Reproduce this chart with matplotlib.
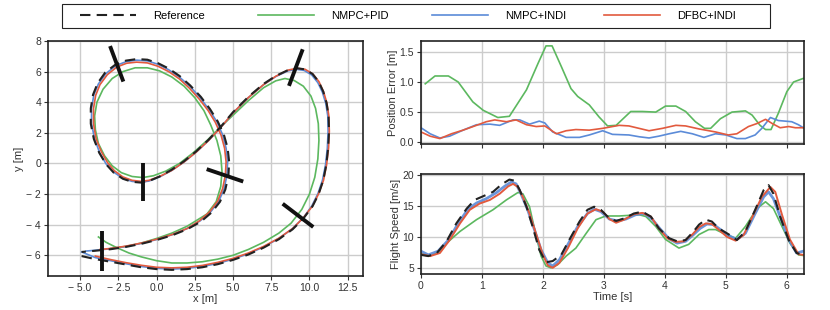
import numpy as np
import matplotlib
matplotlib.use('Agg')
from matplotlib import pyplot as plt
from matplotlib.ticker import FuncFormatter, MultipleLocator
from matplotlib.lines import Line2D
from matplotlib.patches import Rectangle

# ---------------- trajectory (x-y plane) ----------------
ref_x = [-4.9, -4.0, -3.0, -2.0, -1.0, 0.0, 1.0, 2.0, 3.0, 4.0, 5.0, 6.0, 7.0, 8.0, 8.9, 9.6,
         10.2, 10.6, 10.9, 11.1, 11.22, 11.28, 11.25, 11.12, 10.9, 10.6, 10.2, 9.7, 9.2, 8.6,
         7.8, 7.0, 6.0, 5.0, 4.2, 3.4, 2.6, 1.8, 1.0, 0.2, -0.5, -1.0, -1.6, -2.2, -2.8, -3.3,
         -3.75, -4.1, -4.3, -4.3, -4.15, -3.85, -3.35, -2.7, -2.0, -1.3, -0.6, 0.1, 0.8, 1.5,
         2.2, 2.9, 3.5, 4.0, 4.4, 4.65, 4.75, 4.7, 4.5, 4.15, 3.6, 2.9, 2.0, 1.0, 0.0, -1.0,
         -2.0, -3.0, -4.0, -4.9]
ref_y = [-6.05, -6.25, -6.42, -6.6, -6.78, -6.9, -6.95, -6.9, -6.78, -6.58, -6.3, -5.95, -5.5,
         -4.95, -4.3, -3.6, -2.8, -2.0, -1.1, -0.1, 1.0, 2.1, 3.1, 3.95, 4.7, 5.35, 5.85, 6.15,
         6.22, 6.1, 5.72, 5.2, 4.35, 3.35, 2.4, 1.55, 0.8, 0.15, -0.4, -0.85, -1.15, -1.25, -1.2,
         -1.0, -0.6, -0.05, 0.7, 1.6, 2.6, 3.6, 4.5, 5.25, 5.95, 6.45, 6.72, 6.82, 6.78, 6.55,
         6.2, 5.72, 5.1, 4.35, 3.55, 2.75, 1.9, 1.0, 0.1, -0.8, -1.7, -2.5, -3.2, -3.8, -4.3,
         -4.7, -5.0, -5.25, -5.45, -5.6, -5.7, -5.78]

pid_x = [-3.8, -3.3, -2.6, -1.8, -1.0, 0.0, 1.0, 2.0, 3.0, 4.0, 5.0, 6.0, 7.0, 8.0, 8.8, 9.5,
         10.0, 10.35, 10.55, 10.62, 10.58, 10.4, 10.1, 9.6, 9.0, 8.4, 7.8, 7.0, 6.0, 5.0, 4.2,
         3.3, 2.4, 1.5, 0.6, -0.2, -0.9, -1.6, -2.3, -2.9, -3.4, -3.8, -4.0, -4.05, -3.9, -3.5,
         -2.9, -2.2, -1.4, -0.6, 0.2, 1.0, 1.8, 2.5, 3.1, 3.55, 3.95, 4.2, 4.28, 4.2, 3.9, 3.3,
         2.0, 1.0, 0.0, -1.0, -2.0, -3.0]
pid_y = [-4.8, -5.15, -5.5, -5.85, -6.1, -6.35, -6.5, -6.5, -6.42, -6.25, -6.0, -5.62, -5.15,
         -4.55, -3.9, -3.0, -2.0, -0.9, 0.3, 1.5, 2.6, 3.6, 4.4, 5.05, 5.42, 5.55, 5.4, 4.95,
         4.1, 3.15, 2.4, 1.5, 0.7, 0.0, -0.5, -0.8, -0.92, -0.85, -0.6, -0.15, 0.5, 1.3, 2.2,
         3.1, 4.0, 4.85, 5.55, 6.0, 6.25, 6.25, 6.05, 5.65, 5.05, 4.3, 3.45, 2.5, 1.5, 0.5, -0.5,
         -1.5, -2.5, -3.3, -4.1, -4.55, -4.9, -5.2, -5.42, -5.55]

indi_x = [-4.9, -4.0, -3.0, -2.0, -1.0, 0.0, 1.0, 2.0, 3.0, 4.0, 5.0, 6.0, 7.0, 8.0, 8.9, 9.6,
          10.15, 10.55, 10.85, 11.05, 11.17, 11.22, 11.2, 11.07, 10.85, 10.55, 10.15, 9.65, 9.15,
          8.6, 7.8, 7.0, 6.0, 5.0, 4.2, 3.4, 2.6, 1.8, 1.0, 0.2, -0.5, -1.0, -1.6, -2.2, -2.8,
          -3.3, -3.72, -4.05, -4.25, -4.25, -4.1, -3.8, -3.3, -2.68, -2.0, -1.3, -0.6, 0.1, 0.8,
          1.5, 2.2, 2.85, 3.45, 3.95, 4.32, 4.55, 4.65, 4.6, 4.42, 4.08, 3.55, 2.85, 2.0, 1.0,
          0.0, -1.0, -2.0, -3.0, -4.0, -4.6]
indi_y = [-5.78, -6.15, -6.35, -6.55, -6.73, -6.85, -6.9, -6.85, -6.73, -6.53, -6.25, -5.9,
          -5.45, -4.9, -4.25, -3.55, -2.78, -1.98, -1.1, -0.1, 1.0, 2.1, 3.1, 3.92, 4.65, 5.28,
          5.78, 6.08, 6.15, 6.05, 5.68, 5.15, 4.3, 3.3, 2.35, 1.5, 0.75, 0.1, -0.45, -0.88, -1.15,
          -1.22, -1.17, -0.97, -0.57, -0.03, 0.7, 1.6, 2.6, 3.6, 4.48, 5.2, 5.88, 6.38, 6.65,
          6.75, 6.7, 6.48, 6.12, 5.64, 5.03, 4.3, 3.5, 2.72, 1.88, 1.0, 0.1, -0.78, -1.65, -2.45,
          -3.15, -3.75, -4.25, -4.66, -4.97, -5.22, -5.42, -5.57, -5.67, -5.72]

dfbc_x = [-4.0, -3.0, -2.0, -1.0, 0.0, 1.0, 2.0, 3.0, 4.0, 5.0, 6.0, 7.0, 8.0, 8.9, 9.6, 10.2,
          10.6, 10.92, 11.12, 11.25, 11.3, 11.27, 11.14, 10.92, 10.62, 10.22, 9.72, 9.2, 8.6,
          7.8, 7.0, 6.0, 5.0, 4.2, 3.4, 2.6, 1.8, 1.0, 0.2, -0.5, -1.0, -1.6, -2.2, -2.75, -3.2,
          -3.6, -3.95, -4.12, -4.12, -3.98, -3.7, -3.22, -2.6, -1.95, -1.3, -0.6, 0.1, 0.8, 1.5,
          2.15, 2.8, 3.38, 3.85, 4.22, 4.45, 4.55, 4.5, 4.32, 4.0, 3.48, 2.8, 2.0, 1.0, 0.0, -1.0,
          -2.0, -3.0, -3.7]
dfbc_y = [-6.05, -6.28, -6.48, -6.65, -6.78, -6.82, -6.78, -6.66, -6.46, -6.2, -5.85, -5.42,
          -4.88, -4.25, -3.55, -2.78, -1.98, -1.1, -0.1, 1.0, 2.1, 3.1, 3.95, 4.7, 5.35, 5.85,
          6.15, 6.22, 6.1, 5.7, 5.15, 4.3, 3.3, 2.35, 1.5, 0.75, 0.1, -0.45, -0.85, -1.1, -1.17,
          -1.1, -0.88, -0.48, 0.05, 0.75, 1.6, 2.6, 3.6, 4.45, 5.15, 5.8, 6.3, 6.55, 6.62, 6.57,
          6.35, 6.0, 5.52, 4.92, 4.2, 3.45, 2.68, 1.85, 1.0, 0.1, -0.78, -1.65, -2.45, -3.15,
          -3.75, -4.25, -4.65, -4.95, -5.2, -5.4, -5.55, -5.62]

# gates: (x0, y0, x1, y1)
gates = [(-3.04, 7.67, -2.17, 5.35), (9.56, 7.46, 8.66, 5.07), (-0.86, 0.02, -0.86, -2.48),
         (3.28, -0.37, 5.67, -1.18), (8.25, -2.63, 10.25, -4.15), (-3.54, -4.44, -3.54, -7.0)]

# ---------------- position error ----------------
err_pid_t = [0.07, 0.23, 0.45, 0.61, 0.85, 1.02, 1.26, 1.45, 1.73, 1.92, 2.05, 2.15, 2.30, 2.46,
             2.57, 2.76, 2.92, 3.06, 3.20, 3.44, 3.63, 3.85, 4.01, 4.18, 4.34, 4.50, 4.65, 4.75,
             4.91, 5.10, 5.32, 5.43, 5.56, 5.65, 5.74, 5.86, 6.00, 6.11, 6.27]
err_pid = [0.97, 1.10, 1.10, 1.00, 0.67, 0.53, 0.41, 0.43, 0.87, 1.31, 1.60, 1.60, 1.26, 0.89,
           0.76, 0.62, 0.42, 0.27, 0.28, 0.51, 0.51, 0.50, 0.60, 0.60, 0.51, 0.34, 0.23, 0.23,
           0.39, 0.50, 0.52, 0.45, 0.28, 0.21, 0.21, 0.48, 0.84, 1.00, 1.06]

err_indi_t = [0.00, 0.15, 0.31, 0.47, 0.69, 0.91, 1.13, 1.29, 1.51, 1.62, 1.78, 1.94, 2.03, 2.16,
              2.38, 2.60, 2.76, 2.98, 3.14, 3.41, 3.58, 3.74, 3.90, 4.07, 4.26, 4.45, 4.64, 4.83,
              5.00, 5.18, 5.32, 5.48, 5.59, 5.73, 5.86, 6.08, 6.19, 6.27]
err_indi = [0.24, 0.14, 0.07, 0.10, 0.20, 0.29, 0.30, 0.28, 0.37, 0.37, 0.30, 0.35, 0.32, 0.17,
            0.08, 0.08, 0.12, 0.19, 0.13, 0.12, 0.09, 0.07, 0.10, 0.14, 0.18, 0.14, 0.08, 0.14,
            0.12, 0.06, 0.06, 0.12, 0.23, 0.41, 0.36, 0.34, 0.29, 0.24]

err_dfbc_t = [0.00, 0.15, 0.31, 0.50, 0.69, 0.91, 1.07, 1.21, 1.40, 1.56, 1.73, 1.89, 2.03, 2.22,
              2.38, 2.54, 2.76, 2.98, 3.25, 3.41, 3.74, 3.96, 4.18, 4.34, 4.56, 4.83, 5.04, 5.18,
              5.37, 5.51, 5.65, 5.76, 5.89, 6.03, 6.14, 6.27]
err_dfbc = [0.17, 0.10, 0.06, 0.14, 0.20, 0.28, 0.34, 0.37, 0.34, 0.37, 0.29, 0.26, 0.27, 0.14,
            0.19, 0.21, 0.20, 0.23, 0.28, 0.27, 0.19, 0.23, 0.28, 0.27, 0.22, 0.17, 0.12, 0.14,
            0.26, 0.31, 0.38, 0.31, 0.24, 0.26, 0.24, 0.24]

# ---------------- flight speed ----------------
spd_ref_t = [0.00, 0.12, 0.26, 0.42, 0.58, 0.75, 0.88, 1.02, 1.18, 1.32, 1.45, 1.54, 1.62, 1.73,
             1.83, 1.94, 2.05, 2.16, 2.30, 2.43, 2.60, 2.73, 2.84, 2.95, 3.09, 3.20, 3.33, 3.49,
             3.63, 3.77, 3.90, 4.07, 4.20, 4.34, 4.47, 4.56, 4.67, 4.77, 4.88, 5.05, 5.18, 5.32,
             5.48, 5.62, 5.70, 5.78, 5.89, 6.03, 6.16, 6.27]
spd_ref = [7.1, 6.9, 7.4, 9.3, 12.2, 14.6, 16.0, 16.6, 17.3, 18.5, 19.3, 19.1, 17.6, 14.9, 11.7,
           7.9, 5.9, 6.1, 7.1, 9.5, 12.5, 14.4, 14.9, 14.4, 13.0, 12.6, 13.0, 13.8, 14.1, 13.3,
           11.4, 9.8, 9.3, 9.5, 10.9, 12.0, 12.8, 12.5, 11.4, 10.4, 9.5, 10.9, 14.4, 17.6, 18.4,
           17.0, 13.3, 9.5, 7.4, 7.1]

spd_pid_t = [0.00, 0.15, 0.28, 0.42, 0.64, 0.91, 1.18, 1.40, 1.59, 1.67, 1.78, 1.89, 1.97, 2.05,
             2.13, 2.24, 2.38, 2.54, 2.71, 2.87, 3.03, 3.25, 3.58, 3.69, 3.85, 4.01, 4.23, 4.39,
             4.56, 4.72, 4.83, 5.00, 5.16, 5.32, 5.51, 5.65, 5.78, 5.92, 6.05, 6.19, 6.27]
spd_pid = [7.3, 7.0, 7.5, 9.0, 10.9, 12.8, 14.4, 16.0, 17.2, 17.0, 14.9, 10.1, 6.9, 5.3, 5.0,
           5.5, 6.9, 8.2, 10.6, 12.8, 13.4, 13.4, 13.6, 13.3, 11.7, 9.6, 8.2, 8.8, 10.4, 11.2,
           11.2, 10.4, 9.8, 11.7, 14.6, 15.7, 14.6, 11.7, 9.0, 7.1, 7.0]

spd_indi_t = [0.00, 0.12, 0.28, 0.45, 0.61, 0.77, 0.91, 1.07, 1.24, 1.37, 1.48, 1.56, 1.64,
              1.75, 1.86, 1.97, 2.08, 2.16, 2.27, 2.41, 2.57, 2.73, 2.84, 2.95, 3.09, 3.22, 3.36,
              3.52, 3.66, 3.79, 3.93, 4.07, 4.20, 4.34, 4.47, 4.58, 4.69, 4.80, 4.91, 5.05, 5.18,
              5.32, 5.48, 5.62, 5.70, 5.78, 5.89, 6.03, 6.16, 6.27]
spd_indi = [7.7, 7.1, 7.7, 9.5, 12.2, 14.5, 15.5, 16.2, 17.2, 18.2, 18.9, 18.6, 17.0, 14.4, 11.2,
            7.9, 5.8, 5.3, 6.3, 8.8, 11.7, 13.8, 14.5, 14.1, 12.9, 12.6, 12.9, 13.6, 13.8, 12.9,
            11.2, 9.7, 9.0, 9.3, 10.4, 11.4, 12.1, 12.0, 11.2, 10.2, 9.6, 10.6, 13.8, 16.5, 17.3,
            16.2, 13.3, 9.6, 7.4, 7.7]

spd_dfbc_t = [0.00, 0.15, 0.31, 0.47, 0.64, 0.80, 0.96, 1.13, 1.29, 1.43, 1.51, 1.59, 1.67, 1.78,
              1.89, 2.00, 2.08, 2.16, 2.27, 2.41, 2.57, 2.73, 2.87, 2.98, 3.09, 3.20, 3.33, 3.49,
              3.63, 3.77, 3.90, 4.04, 4.18, 4.31, 4.45, 4.56, 4.67, 4.77, 4.88, 5.02, 5.16, 5.29,
              5.45, 5.59, 5.73, 5.81, 5.92, 6.05, 6.19, 6.27]
spd_dfbc = [7.2, 6.9, 7.4, 9.5, 12.2, 14.4, 15.4, 16.0, 17.0, 18.2, 18.6, 18.1, 16.5, 13.8, 10.4,
            7.1, 5.4, 5.0, 5.8, 8.2, 11.4, 13.8, 14.5, 14.1, 12.9, 12.3, 12.8, 13.7, 13.9, 13.3,
            11.4, 9.8, 9.2, 9.3, 10.4, 11.6, 12.2, 12.1, 11.2, 10.0, 9.4, 10.3, 13.6, 16.5, 18.1,
            17.3, 13.6, 9.6, 7.2, 7.1]

labels = ['Reference', 'NMPC+PID', 'NMPC+INDI', 'DFBC+INDI']

C_PID = '#5cb85f'
C_INDI = '#5b8bd8'
C_DFBC = '#e25a3e'
C_REF = '#222222'
GRID = '#cccccc'
TXT = '#333333'

plt.rcParams['font.family'] = ['Liberation Sans', 'DejaVu Sans']
plt.rcParams['font.size'] = 7.5
plt.rcParams['axes.edgecolor'] = '#222222'
plt.rcParams['axes.linewidth'] = 1.2
plt.rcParams['xtick.color'] = TXT
plt.rcParams['ytick.color'] = TXT
plt.rcParams['axes.labelcolor'] = TXT


def minus_fmt(fmt):
    def f(v, pos):
        if v < 0:
            return '\u2212 ' + format(abs(v), fmt)
        return format(v, fmt)
    return FuncFormatter(f)


def style_axes(ax):
    ax.grid(True, color=GRID, linewidth=1.0)
    ax.set_axisbelow(True)
    ax.tick_params(length=3, width=0.8, pad=2, labelsize=7.5)


fig = plt.figure(figsize=(8.3, 3.1), dpi=100)

# --- left: trajectory ---
ax = fig.add_axes([0.0578, 0.1097, 0.3795, 0.758])
style_axes(ax)
ax.plot(pid_x, pid_y, color=C_PID, lw=1.2)
ax.plot(indi_x, indi_y, color=C_INDI, lw=1.2)
ax.plot(dfbc_x, dfbc_y, color=C_DFBC, lw=1.2)
ax.plot(ref_x, ref_y, color=C_REF, lw=1.5, dashes=(5, 3))
for x0, y0, x1, y1 in gates:
    ax.plot([x0, x1], [y0, y1], color='#111111', lw=2.8, solid_capstyle='butt')
ax.set_xlim(-7.1, 13.5)
ax.set_ylim(-7.35, 8.0)
ax.xaxis.set_major_locator(MultipleLocator(2.5))
ax.yaxis.set_major_locator(MultipleLocator(2))
ax.xaxis.set_major_formatter(minus_fmt('.1f'))
ax.yaxis.set_major_formatter(minus_fmt('.0f'))
ax.set_xlabel('x [m]', fontsize=8, labelpad=1)
ax.set_ylabel('y [m]', fontsize=8, labelpad=2)

# --- right top: position error ---
ax1 = fig.add_axes([0.5072, 0.5355, 0.4614, 0.332])
style_axes(ax1)
ax1.plot(err_pid_t, err_pid, color=C_PID, lw=1.2)
ax1.plot(err_indi_t, err_indi, color=C_INDI, lw=1.2)
ax1.plot(err_dfbc_t, err_dfbc, color=C_DFBC, lw=1.2)
ax1.set_xlim(0, 6.28)
ax1.set_ylim(-0.03, 1.68)
ax1.xaxis.set_major_locator(MultipleLocator(1))
ax1.yaxis.set_major_locator(MultipleLocator(0.5))
ax1.yaxis.set_major_formatter(minus_fmt('.1f'))
ax1.set_xticklabels([])
ax1.set_ylabel('Position Error [m]', fontsize=8, labelpad=1)

# --- right bottom: flight speed ---
ax2 = fig.add_axes([0.5072, 0.1161, 0.4614, 0.3226])
style_axes(ax2)
ax2.plot(spd_pid_t, spd_pid, color=C_PID, lw=1.2)
ax2.plot(spd_indi_t, spd_indi, color=C_INDI, lw=2.0, alpha=0.9)
ax2.plot(spd_dfbc_t, spd_dfbc, color=C_DFBC, lw=1.4)
ax2.plot(spd_ref_t, spd_ref, color=C_REF, lw=1.5, dashes=(5, 3))
ax2.set_xlim(0, 6.28)
ax2.set_ylim(4.0, 20.2)
ax2.xaxis.set_major_locator(MultipleLocator(1))
ax2.yaxis.set_major_locator(MultipleLocator(5))
ax2.set_xlabel('Time [s]', fontsize=8, labelpad=1)
ax2.set_ylabel('Flight Speed [m/s]', fontsize=8, labelpad=1)

# legend: frame drawn as a plain rectangle, one entry per slot inside it
fig.patches.append(Rectangle((62 / 830, 1 - 28 / 310), 708 / 830, 24 / 310,
                             transform=fig.transFigure, fill=False,
                             edgecolor='#222222', linewidth=0.8))
handles = [Line2D([], [], color=C_REF, lw=1.5, dashes=(5, 3)),
           Line2D([], [], color=C_PID, lw=1.2),
           Line2D([], [], color=C_INDI, lw=1.2),
           Line2D([], [], color=C_DFBC, lw=1.2)]
slot_x = [80, 258, 432, 604]
for h, lab, sx in zip(handles, labels, slot_x):
    leg = fig.legend([h], [lab], loc='center left', bbox_to_anchor=(sx / 830, 1 - 16 / 310),
                     frameon=False, fontsize=8, handlelength=5.0, handletextpad=1.55,
                     borderpad=0, borderaxespad=0)

fig.savefig('out.png', dpi=100)
